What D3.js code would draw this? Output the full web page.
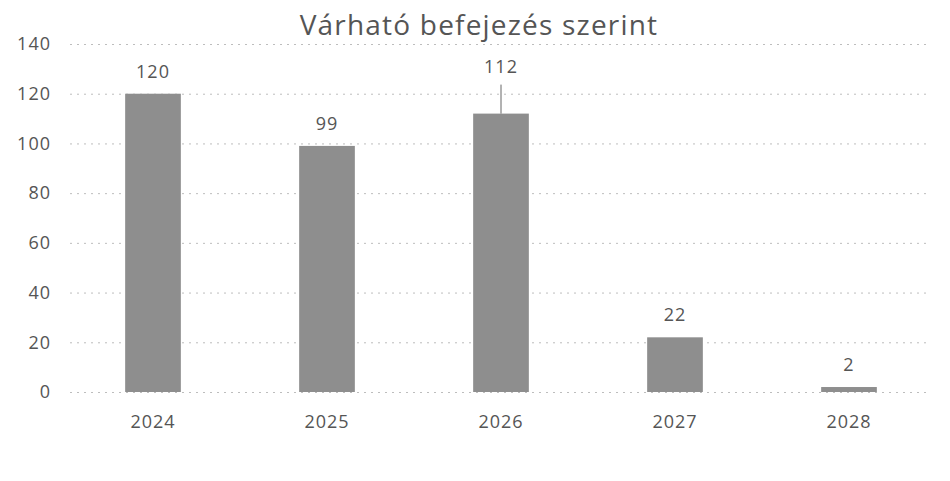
<!DOCTYPE html>
<html>
<head>
<meta charset="utf-8">
<script src="https://cdn.jsdelivr.net/npm/d3@7"></script>
<style>
  body { margin: 0; background: #fff; }
  text { font-family: "Open Sans", "Liberation Sans", sans-serif; }
</style>
</head>
<body>
<div id="chart"></div>
<script>
const years = ['2024', '2025', '2026', '2027', '2028'];
const counts = [120, 99, 112, 22, 2];
const yTicks = [0, 20, 40, 60, 80, 100, 120, 140];
const title = 'Várható befejezés szerint';

const w = 950;
const h = 481;
const margin = { top: 44, right: 14, bottom: 89, left: 66 };

const svg = d3.select('#chart')
  .append('svg')
  .attr('width', w)
  .attr('height', h);

const xScale = d3.scaleBand()
  .domain(years)
  .range([margin.left, w - margin.right])
  .paddingInner(0.68)
  .paddingOuter(0.34);

const yScale = d3.scaleLinear()
  .domain([0, 140])
  .range([h - margin.bottom, margin.top]);

// gridlines + y labels
const yAxis = d3.axisLeft(yScale)
  .tickValues(yTicks)
  .tickSize(-(w - margin.left - margin.right - 10))
  .tickPadding(19);

svg.append('g')
  .attr('class', 'y-axis')
  .attr('transform', `translate(${margin.left + 4}, 0)`)
  .call(yAxis);

svg.selectAll('.y-axis .tick line')
  .attr('stroke', '#bdbdbd')
  .attr('stroke-dasharray', '2,5');

svg.selectAll('.y-axis .tick text')
  .attr('fill', '#555')
  .style('font-size', '18px')
  .style('letter-spacing', '1px');

svg.selectAll('.domain').remove();

// bars
svg.selectAll('.bar')
  .data(years)
  .enter()
  .append('rect')
  .attr('class', 'bar')
  .attr('x', d => xScale(d))
  .attr('y', (d, i) => yScale(counts[i]))
  .attr('width', xScale.bandwidth())
  .attr('height', (d, i) => yScale(0) - yScale(counts[i]))
  .attr('fill', '#8e8e8e');

// x labels
const xAxis = d3.axisBottom(xScale).tickSize(0).tickPadding(23);
svg.append('g')
  .attr('class', 'x-axis')
  .attr('transform', `translate(0, ${yScale(0)})`)
  .call(xAxis);

svg.select('.x-axis .domain').remove();
svg.selectAll('.x-axis .tick text')
  .attr('fill', '#555')
  .style('font-size', '18px')
  .style('letter-spacing', '1px');

// value labels (the 2026 label was dragged up with a leader line)
const lift = [0, 0, 25, 0, 0];

svg.selectAll('.value')
  .data(years)
  .enter()
  .append('text')
  .attr('class', 'value')
  .attr('x', d => xScale(d) + xScale.bandwidth() / 2)
  .attr('y', (d, i) => yScale(counts[i]) - 16 - lift[i])
  .attr('text-anchor', 'middle')
  .attr('fill', '#555')
  .style('font-size', '18px')
  .style('letter-spacing', '1px')
  .text((d, i) => counts[i]);

svg.selectAll('.leader')
  .data(years.filter((d, i) => lift[i] > 0))
  .enter()
  .append('line')
  .attr('x1', d => xScale(d) + xScale.bandwidth() / 2)
  .attr('x2', d => xScale(d) + xScale.bandwidth() / 2)
  .attr('y1', d => yScale(counts[years.indexOf(d)]) - 29)
  .attr('y2', d => yScale(counts[years.indexOf(d)]))
  .attr('stroke', '#666')
  .attr('stroke-width', 1);

svg.append('text')
  .attr('x', 479)
  .attr('y', 35)
  .attr('text-anchor', 'middle')
  .attr('fill', '#555')
  .style('font-size', '28px')
  .style('letter-spacing', '1.2px')
  .text(title);
</script>
</body>
</html>
